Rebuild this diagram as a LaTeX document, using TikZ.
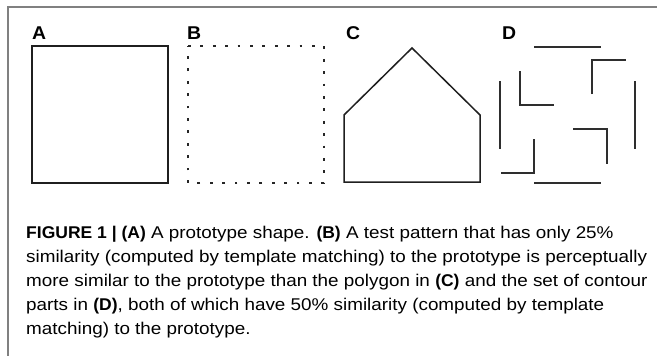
\documentclass[tikz,border=0pt]{standalone}
\usepackage{fontspec}
\setmainfont[FakeStretch=1.11,BoldFeatures={FakeStretch=1.03}]{Liberation Sans}
\newfontfamily\lblfont[FakeStretch=1.05]{Liberation Sans}
\begin{document}
\begin{tikzpicture}[x=1pt,y=-1pt,
  frame/.style={draw=black!50,line width=1.5pt},
  outlinebox/.style={draw=black!88,line width=1.5pt,line join=miter},
  part/.style={draw=black!82,line width=1.5pt},
  lbl/.style={anchor=base west,inner sep=0pt,font=\lblfont\fontsize{18.5}{20}\selectfont\bfseries},
  capline/.style={anchor=base west,inner sep=0pt,font=\fontsize{17}{24}\selectfont}]
\useasboundingbox (0,0) rectangle (657,356);
\fill[white] (0,0) rectangle (657,356);
\draw[frame] (8,356) -- (8,7) -- (657,7);
% labels
\node[lbl] (la) at (32,39.5) {A};
\node[lbl] (lb) at (187,39.5) {B};
\node[lbl] (lc) at (346,39.5) {C};
\node[lbl] (ld) at (502,39.5) {D};
% A
\draw[outlinebox] (32,46) rectangle (168,183);
% B
\draw[draw=black!85,line width=1.4pt,dash pattern=on 2.8pt off 9.6pt] (188,46) -- (324,46) -- (324,183) -- (188,183) -- cycle;
% C
\draw[outlinebox] (344,182) -- (344,115) -- (412,48) -- (480,115) -- (480,182) -- cycle;
% D
\draw[part] (534,47) -- (601,47);
\draw[part] (534,183) -- (601,183);
\draw[part] (500,81) -- (500,149);
\draw[part] (635,81) -- (635,149);
\draw[part] (520,71) -- (520,105) -- (554,105);
\draw[part] (592,94) -- (592,60) -- (626,60);
\draw[part] (573,129) -- (607,129) -- (607,164);
\draw[part] (534,139) -- (534,173) -- (501,173);
% caption
\node[capline] (c1) at (26,238) {\textbf{FIGURE 1 | (A)} A prototype shape. \textbf{(B)} A test pattern that has only 25\%};
\node[capline] (c2) at (26,262) {similarity (computed by template matching) to the prototype is perceptually};
\node[capline] (c3) at (26,286) {more similar to the prototype than the polygon in \textbf{(C)} and the set of contour};
\node[capline] (c4) at (26,310) {parts in \textbf{(D)}, both of which have 50\% similarity (computed by template};
\node[capline] (c5) at (26,334) {matching) to the prototype.};
\end{tikzpicture}
\end{document}
